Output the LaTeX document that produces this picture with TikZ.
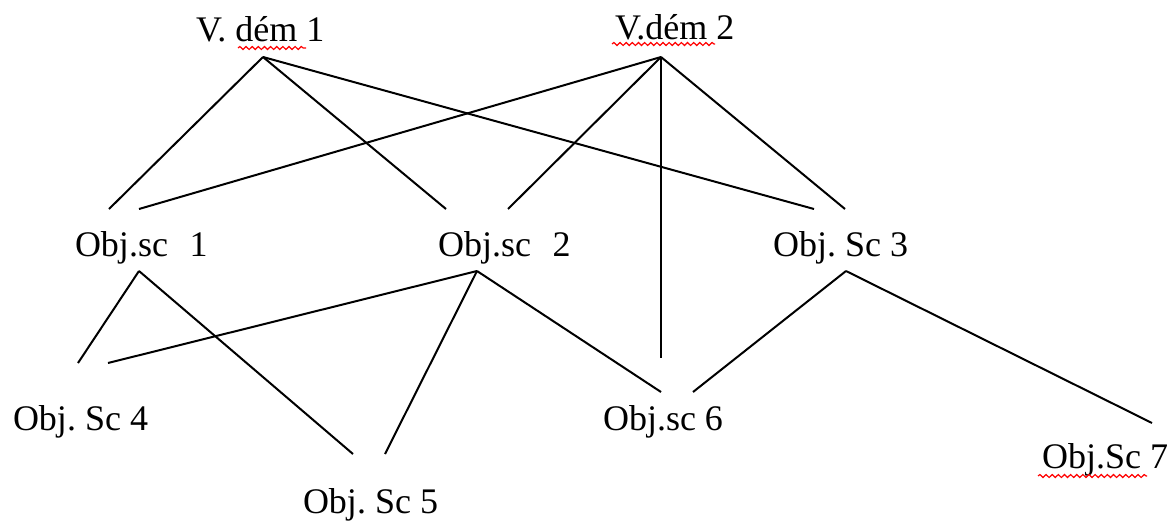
\documentclass[tikz,border=0pt]{standalone}
\usepackage{fontspec}
\setmainfont{Liberation Serif}
\usetikzlibrary{decorations.pathmorphing}
\frenchspacing

\tikzset{every picture/.style={line width=1.5pt}}
\tikzset{lbl/.style={anchor=base west,inner sep=0pt,font=\fontsize{27}{32}\selectfont}}
\tikzset{spell/.style={draw={rgb,255:red,255;green,0;blue,0},line width=0.9pt,decorate,decoration={snake,amplitude=1.1pt,segment length=4.6pt}}}

\begin{document}
\begin{tikzpicture}[x=0.75pt,y=0.75pt,yscale=-1,xscale=1]
\useasboundingbox (0,0) rectangle (1169,522);

% Text Node
\node[lbl] (vdem1) at (195,41) {V. dém 1};
% Text Node
\node[lbl] (vdem2) at (614,39) {V.dém 2};
% Text Node
\node[lbl] (obj1) at (74,256) {Obj.sc\hspace{0.6em}1};
% Text Node
\node[lbl] (obj2) at (437,256) {Obj.sc\hspace{0.6em}2};
% Text Node
\node[lbl] (obj3) at (772,256) {Obj. Sc 3};
% Text Node
\node[lbl] (obj4) at (12,430) {Obj. Sc 4};
% Text Node
\node[lbl] (obj5) at (302,513) {Obj. Sc 5};
% Text Node
\node[lbl] (obj6) at (602,430) {Obj.sc 6};
% Text Node
\node[lbl] (obj7) at (1041,468) {Obj.Sc 7};

%Spell marks
\draw[spell] (238,48) -- (306,48);
\draw[spell] (612,44) -- (715,44);
\draw[spell] (1038,476) -- (1147,476);

%Line ends
\coordinate (d1) at (263,57);
\coordinate (d2) at (661,57);
\coordinate (o1) at (139,271);
\coordinate (o2) at (477,271);
\coordinate (o3) at (846,271);
\coordinate (s1a) at (109,209);
\coordinate (s1b) at (139,209);
\coordinate (s2a) at (446,209);
\coordinate (s2b) at (508,209);
\coordinate (s3a) at (814,209);
\coordinate (s3b) at (845,209);
\coordinate (s4a) at (78,363);
\coordinate (s4b) at (108,363);
\coordinate (s5a) at (353,454);
\coordinate (s5b) at (385,454);
\coordinate (s6a) at (661,392);
\coordinate (s6b) at (693,392);
\coordinate (s6c) at (661,358);
\coordinate (s7a) at (1152,423);

%Straight Lines from V. dem 1
\draw (d1) -- (s1a);
\draw (d1) -- (s2a);
\draw (d1) -- (s3a);
%Straight Lines from V.dem 2
\draw (d2) -- (s1b);
\draw (d2) -- (s2b);
\draw (d2) -- (s6c);
\draw (d2) -- (s3b);
%Straight Lines from Obj.sc 1
\draw (o1) -- (s4a);
\draw (o1) -- (s5a);
%Straight Lines from Obj.sc 2
\draw (o2) -- (s4b);
\draw (o2) -- (s5b);
\draw (o2) -- (s6a);
%Straight Lines from Obj. Sc 3
\draw (o3) -- (s6b);
\draw (o3) -- (s7a);

\end{tikzpicture}
\end{document}
